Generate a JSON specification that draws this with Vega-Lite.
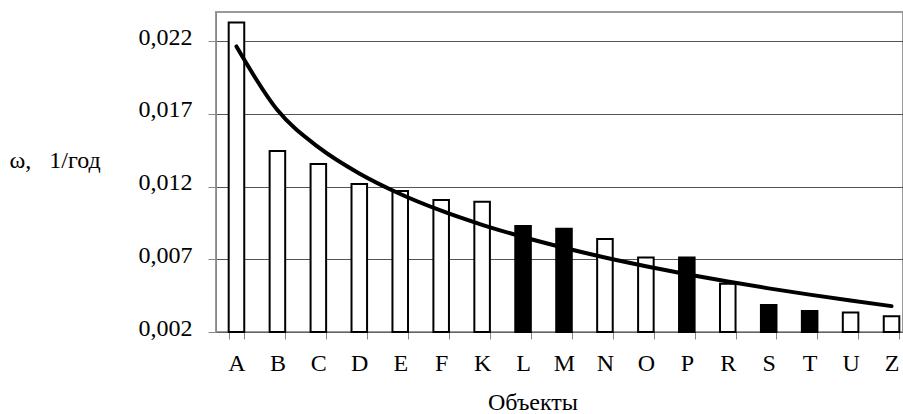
{
  "$schema": "https://vega.github.io/schema/vega-lite/v6.json",
  "autosize": {"type": "none"},
  "padding": {"left": 216, "top": 12, "right": 0, "bottom": 82},
  "width": 687,
  "height": 320,
  "background": "white",
  "config": {
    "view": {"stroke": "#999999", "strokeWidth": 2},
    "font": "Liberation Serif"
  },
  "datasets": {
    "bars": [
      {"obj": "A", "omega": 0.02328, "kind": "open"},
      {"obj": "B", "omega": 0.01445, "kind": "open"},
      {"obj": "C", "omega": 0.01355, "kind": "open"},
      {"obj": "D", "omega": 0.01217, "kind": "open"},
      {"obj": "E", "omega": 0.01169, "kind": "open"},
      {"obj": "F", "omega": 0.01107, "kind": "open"},
      {"obj": "K", "omega": 0.01095, "kind": "open"},
      {"obj": "L", "omega": 0.00928, "kind": "solid"},
      {"obj": "M", "omega": 0.00909, "kind": "solid"},
      {"obj": "N", "omega": 0.0084, "kind": "open"},
      {"obj": "O", "omega": 0.00712, "kind": "open"},
      {"obj": "P", "omega": 0.00712, "kind": "solid"},
      {"obj": "R", "omega": 0.00531, "kind": "open"},
      {"obj": "S", "omega": 0.00386, "kind": "solid"},
      {"obj": "T", "omega": 0.00345, "kind": "solid"},
      {"obj": "U", "omega": 0.00334, "kind": "open"},
      {"obj": "Z", "omega": 0.00308, "kind": "open"}
    ],
    "trend": [
      {"obj": "A", "omega": 0.02163},
      {"obj": "B", "omega": 0.01726},
      {"obj": "C", "omega": 0.01471},
      {"obj": "D", "omega": 0.0129},
      {"obj": "E", "omega": 0.01149},
      {"obj": "F", "omega": 0.01034},
      {"obj": "K", "omega": 0.00937},
      {"obj": "L", "omega": 0.00853},
      {"obj": "M", "omega": 0.00779},
      {"obj": "N", "omega": 0.00712},
      {"obj": "O", "omega": 0.00652},
      {"obj": "P", "omega": 0.00597},
      {"obj": "R", "omega": 0.00547},
      {"obj": "S", "omega": 0.005},
      {"obj": "T", "omega": 0.00457},
      {"obj": "U", "omega": 0.00416},
      {"obj": "Z", "omega": 0.00378}
    ]
  },
  "encoding": {
    "x": {
      "field": "obj",
      "type": "nominal",
      "sort": null,
      "scale": {"range": [0, 696], "paddingInner": 0.62, "paddingOuter": 0.31},
      "axis": {
        "title": "Объекты",
        "titleFont": "Liberation Serif",
        "titleFontSize": 24,
        "titleFontWeight": "normal",
        "titleColor": "black",
        "titleX": 316.5,
        "titleY": 77,
        "titleBaseline": "alphabetic",
        "titleAlign": "center",
        "labelFont": "Liberation Serif",
        "labelFontSize": 24,
        "labelColor": "black",
        "labelAngle": 0,
        "labelPadding": 12,
        "tickBand": "extent",
        "tickSize": 7,
        "tickColor": "#888888",
        "domainColor": "#666666",
        "grid": false
      }
    },
    "y": {
      "field": "omega",
      "type": "quantitative",
      "scale": {"domain": [0.002, 0.024], "zero": false, "nice": false},
      "axis": {
        "title": "ω,\u00a0\u00a0 1/год",
        "titleFont": "Liberation Serif",
        "titleFontSize": 24,
        "titleFontWeight": "normal",
        "titleColor": "black",
        "titleAngle": 0,
        "titleAlign": "left",
        "titleBaseline": "alphabetic",
        "titleX": -207,
        "titleY": 155,
        "values": [0.002, 0.007, 0.012, 0.017, 0.022],
        "labelExpr": "replace(format(datum.value, '.3f'), '.', ',')",
        "labelFont": "Liberation Serif",
        "labelFontSize": 24,
        "labelColor": "black",
        "labelPadding": 16,
        "labelOffset": -4,
        "tickSize": 8,
        "tickColor": "#888888",
        "domainColor": "#888888",
        "gridColor": "#555555",
        "gridWidth": 1
      }
    }
  },
  "layer": [
    {
      "data": {"name": "bars"},
      "mark": {"type": "bar", "stroke": "black", "strokeWidth": 2},
      "encoding": {
        "y2": {"datum": 0.002},
        "fill": {
          "field": "kind",
          "type": "nominal",
          "scale": {"domain": ["open", "solid"], "range": ["white", "black"]},
          "legend": null
        }
      }
    },
    {
      "data": {"name": "trend"},
      "mark": {"type": "line", "color": "black", "strokeWidth": 4, "interpolate": "monotone", "strokeCap": "round"},
      "encoding": {}
    }
  ]
}
